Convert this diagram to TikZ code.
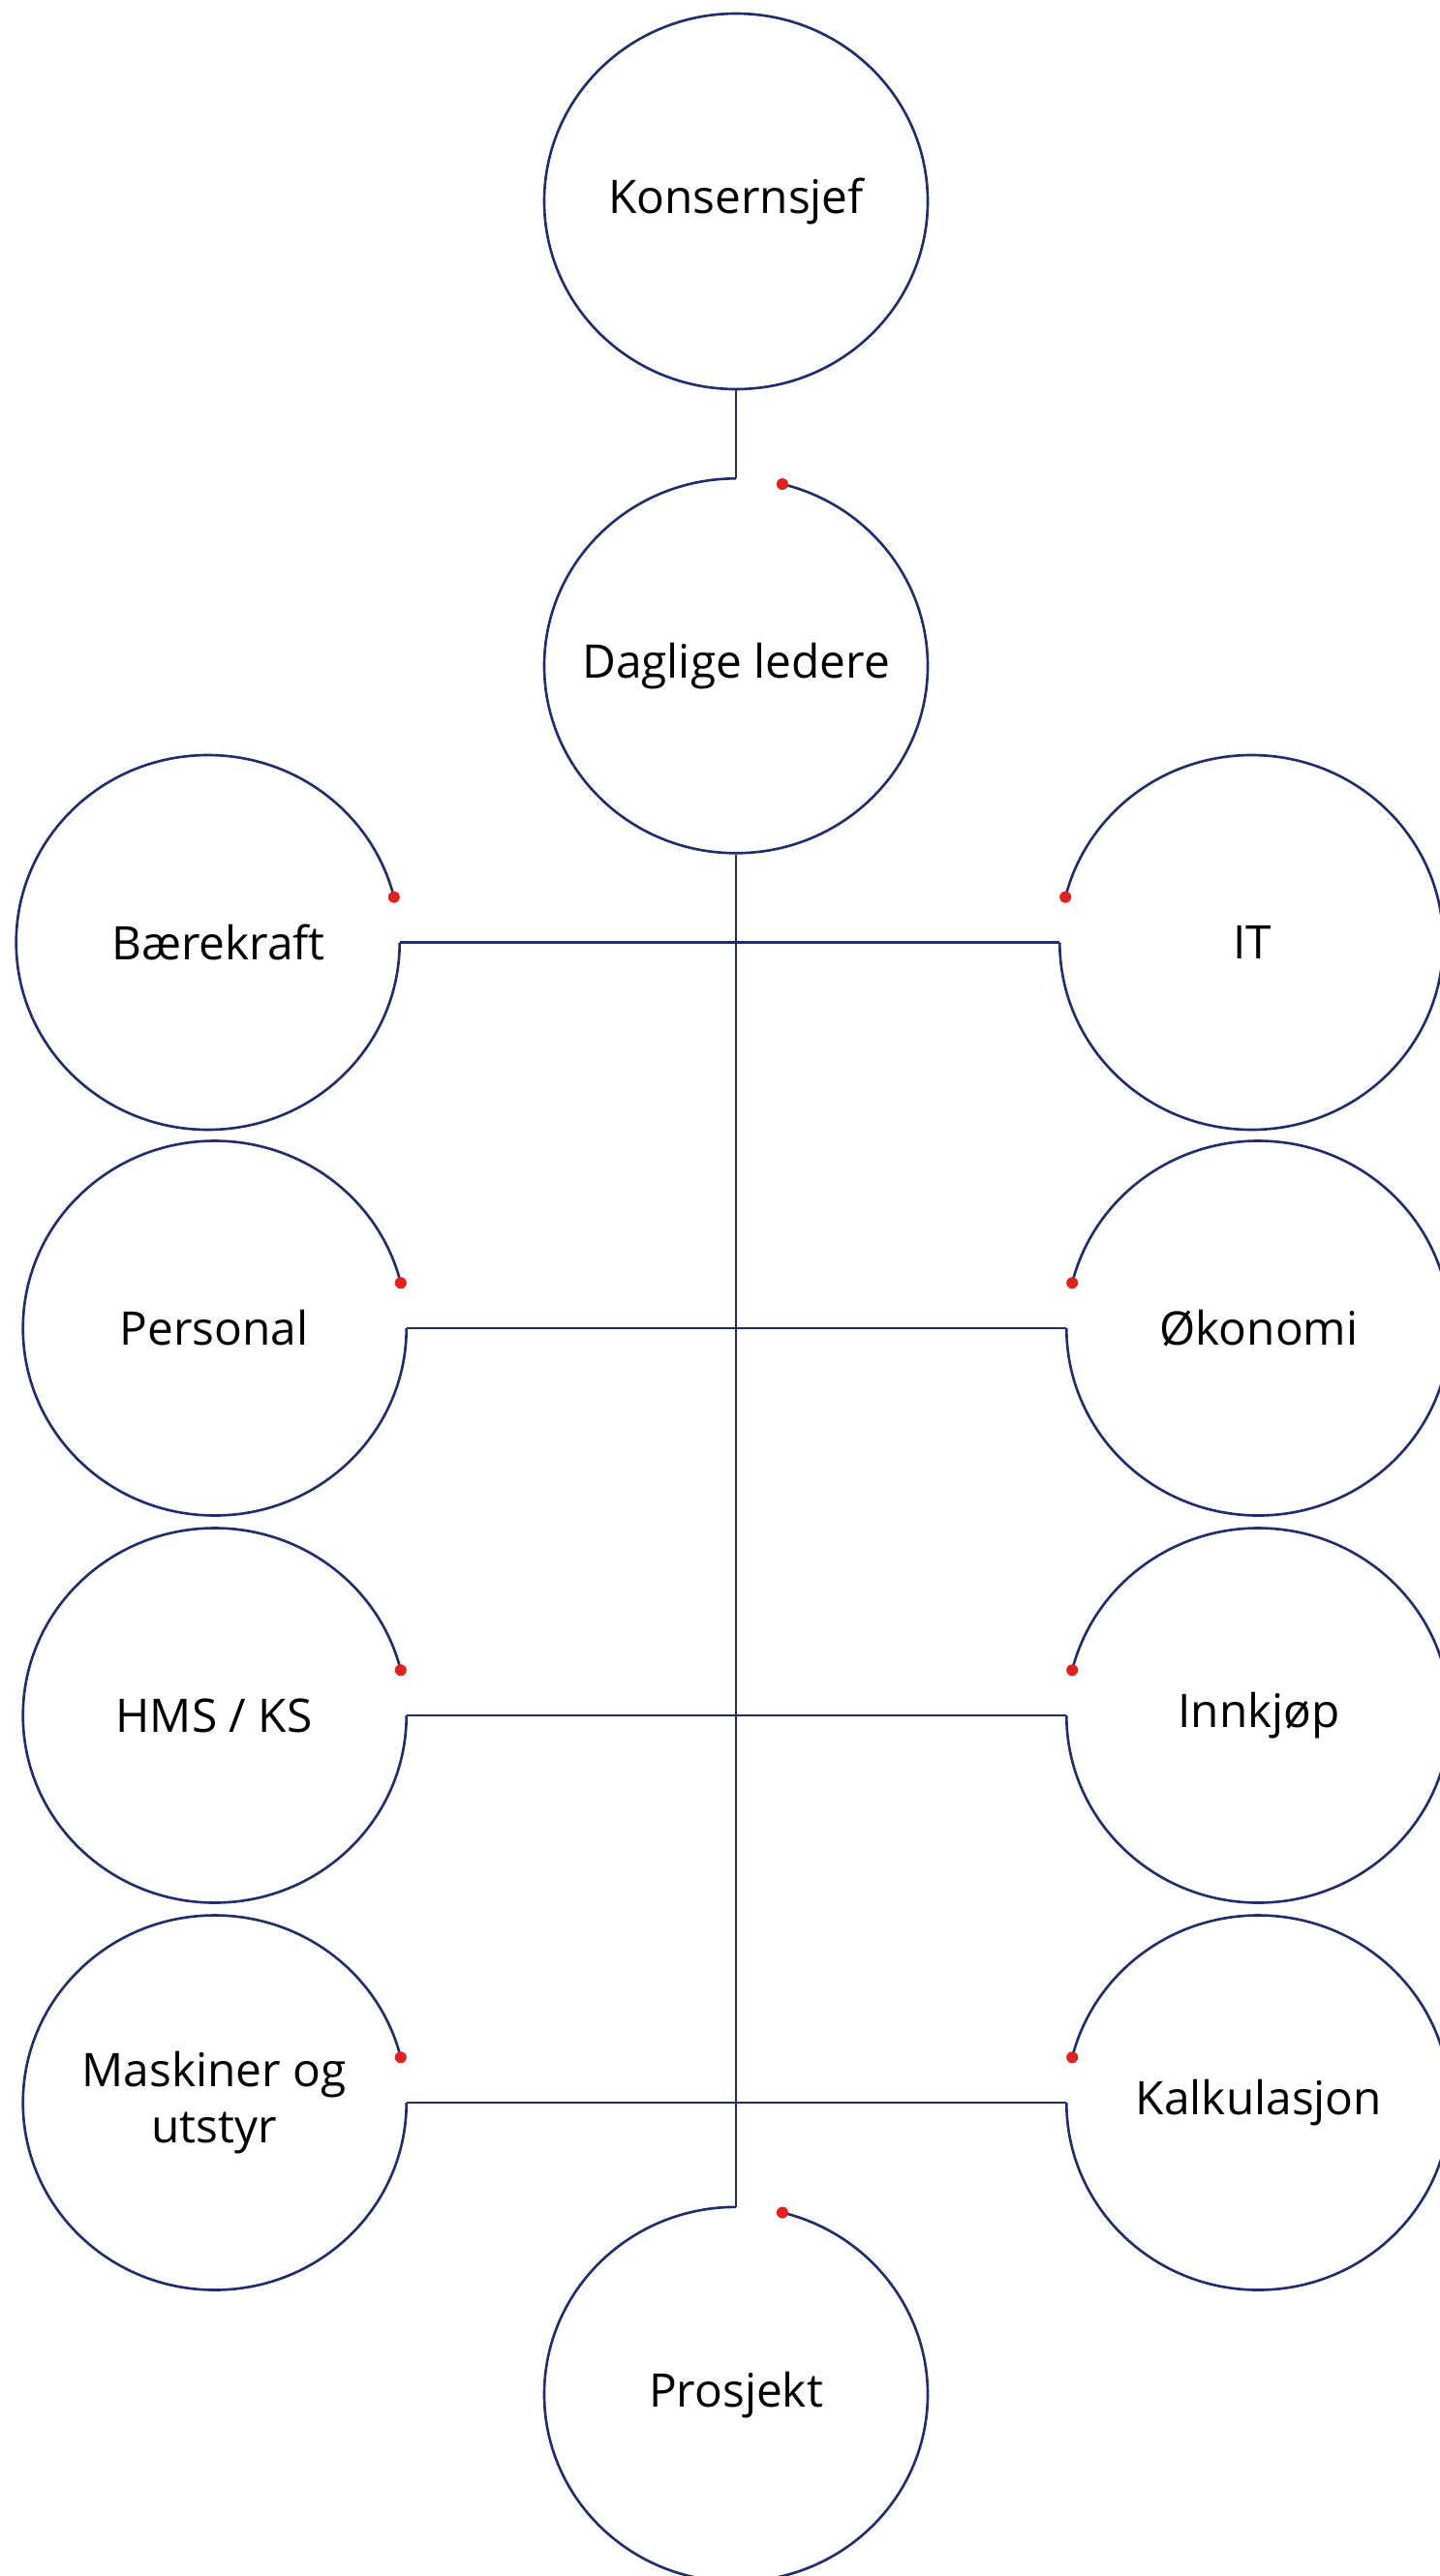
\documentclass[tikz,border=0pt]{standalone}
\usepackage{fontspec}
\setmainfont{Open Sans}
\usepackage{tikz}
\usetikzlibrary{positioning}
\definecolor{linjeblaa}{RGB}{32,46,108}
\definecolor{prikkrod}{RGB}{226,32,28}

\begin{document}
\begin{tikzpicture}[
    node distance=4cm,
    on grid,
    enhet/.style={minimum width=3.96cm, minimum height=3.87cm, inner sep=0pt,
        align=center, font=\fontsize{13.6}{16.5}\selectfont},
    ring/.style={draw=linjeblaa, line width=0.75pt},
    prikk/.style={fill=prikkrod}
]
\useasboundingbox (0,0) rectangle (14.86,-26.61);

% noder
\node[enhet] (kons) at (7.60,-2.08) {Konsernsjef};
\node[enhet, below=4.805cm of kons] (dagl) {Daglige ledere};
\node[enhet] (baer) at (2.14,-9.735) {\hspace*{0.23cm}Bærekraft};
\node[enhet, right=10.79cm of baer] (it) {IT};
\node[enhet] (pers) at (2.21,-13.72) {Personal};
\node[enhet, right=10.79cm of pers] (oko) {Økonomi};
\node[enhet, below=of pers] (hms) {HMS / KS};
\node[enhet, right=10.79cm of hms] (innk) {Innkjøp};
\node[enhet, below=of hms] (mask) {Maskiner og\\utstyr};
\node[enhet, right=10.79cm of mask] (kalk) {Kalkulasjon};
\node[enhet, below=17.855cm of dagl] (pros) {Prosjekt};

% ringer
\draw[ring] (kons.center) ellipse[x radius=1.98cm, y radius=1.94cm];
\draw[ring] (dagl.north) arc[start angle=90, end angle=436, x radius=1.98cm, y radius=1.935cm] coordinate (dagl-e);
\draw[ring] (pros.north) arc[start angle=90, end angle=436, x radius=1.98cm, y radius=1.935cm] coordinate (pros-e);
\draw[ring] (baer.east) arc[start angle=0, end angle=-346, x radius=1.98cm, y radius=1.935cm] coordinate (baer-e);
\draw[ring] (pers.east) arc[start angle=0, end angle=-346, x radius=1.98cm, y radius=1.935cm] coordinate (pers-e);
\draw[ring] (hms.east) arc[start angle=0, end angle=-346, x radius=1.98cm, y radius=1.935cm] coordinate (hms-e);
\draw[ring] (mask.east) arc[start angle=0, end angle=-346, x radius=1.98cm, y radius=1.935cm] coordinate (mask-e);
\draw[ring] (it.west) arc[start angle=180, end angle=526, x radius=1.98cm, y radius=1.935cm] coordinate (it-e);
\draw[ring] (oko.west) arc[start angle=180, end angle=526, x radius=1.98cm, y radius=1.935cm] coordinate (oko-e);
\draw[ring] (innk.west) arc[start angle=180, end angle=526, x radius=1.98cm, y radius=1.935cm] coordinate (innk-e);
\draw[ring] (kalk.west) arc[start angle=180, end angle=526, x radius=1.98cm, y radius=1.935cm] coordinate (kalk-e);

% røde prikker
\fill[prikk] (dagl-e) circle (0.06);
\fill[prikk] (pros-e) circle (0.06);
\fill[prikk] (baer-e) circle (0.06);
\fill[prikk] (pers-e) circle (0.06);
\fill[prikk] (hms-e) circle (0.06);
\fill[prikk] (mask-e) circle (0.06);
\fill[prikk] (it-e) circle (0.06);
\fill[prikk] (oko-e) circle (0.06);
\fill[prikk] (innk-e) circle (0.06);
\fill[prikk] (kalk-e) circle (0.06);

% linjer
\draw[ring] (kons.south) -- (dagl.north);
\draw[ring] (dagl.south) -- (pros.north);
\draw[ring] (baer.east) -- (it.west);
\draw[ring] (pers.east) -- (oko.west);
\draw[ring] (hms.east) -- (innk.west);
\draw[ring] (mask.east) -- (kalk.west);

\end{tikzpicture}
\end{document}
